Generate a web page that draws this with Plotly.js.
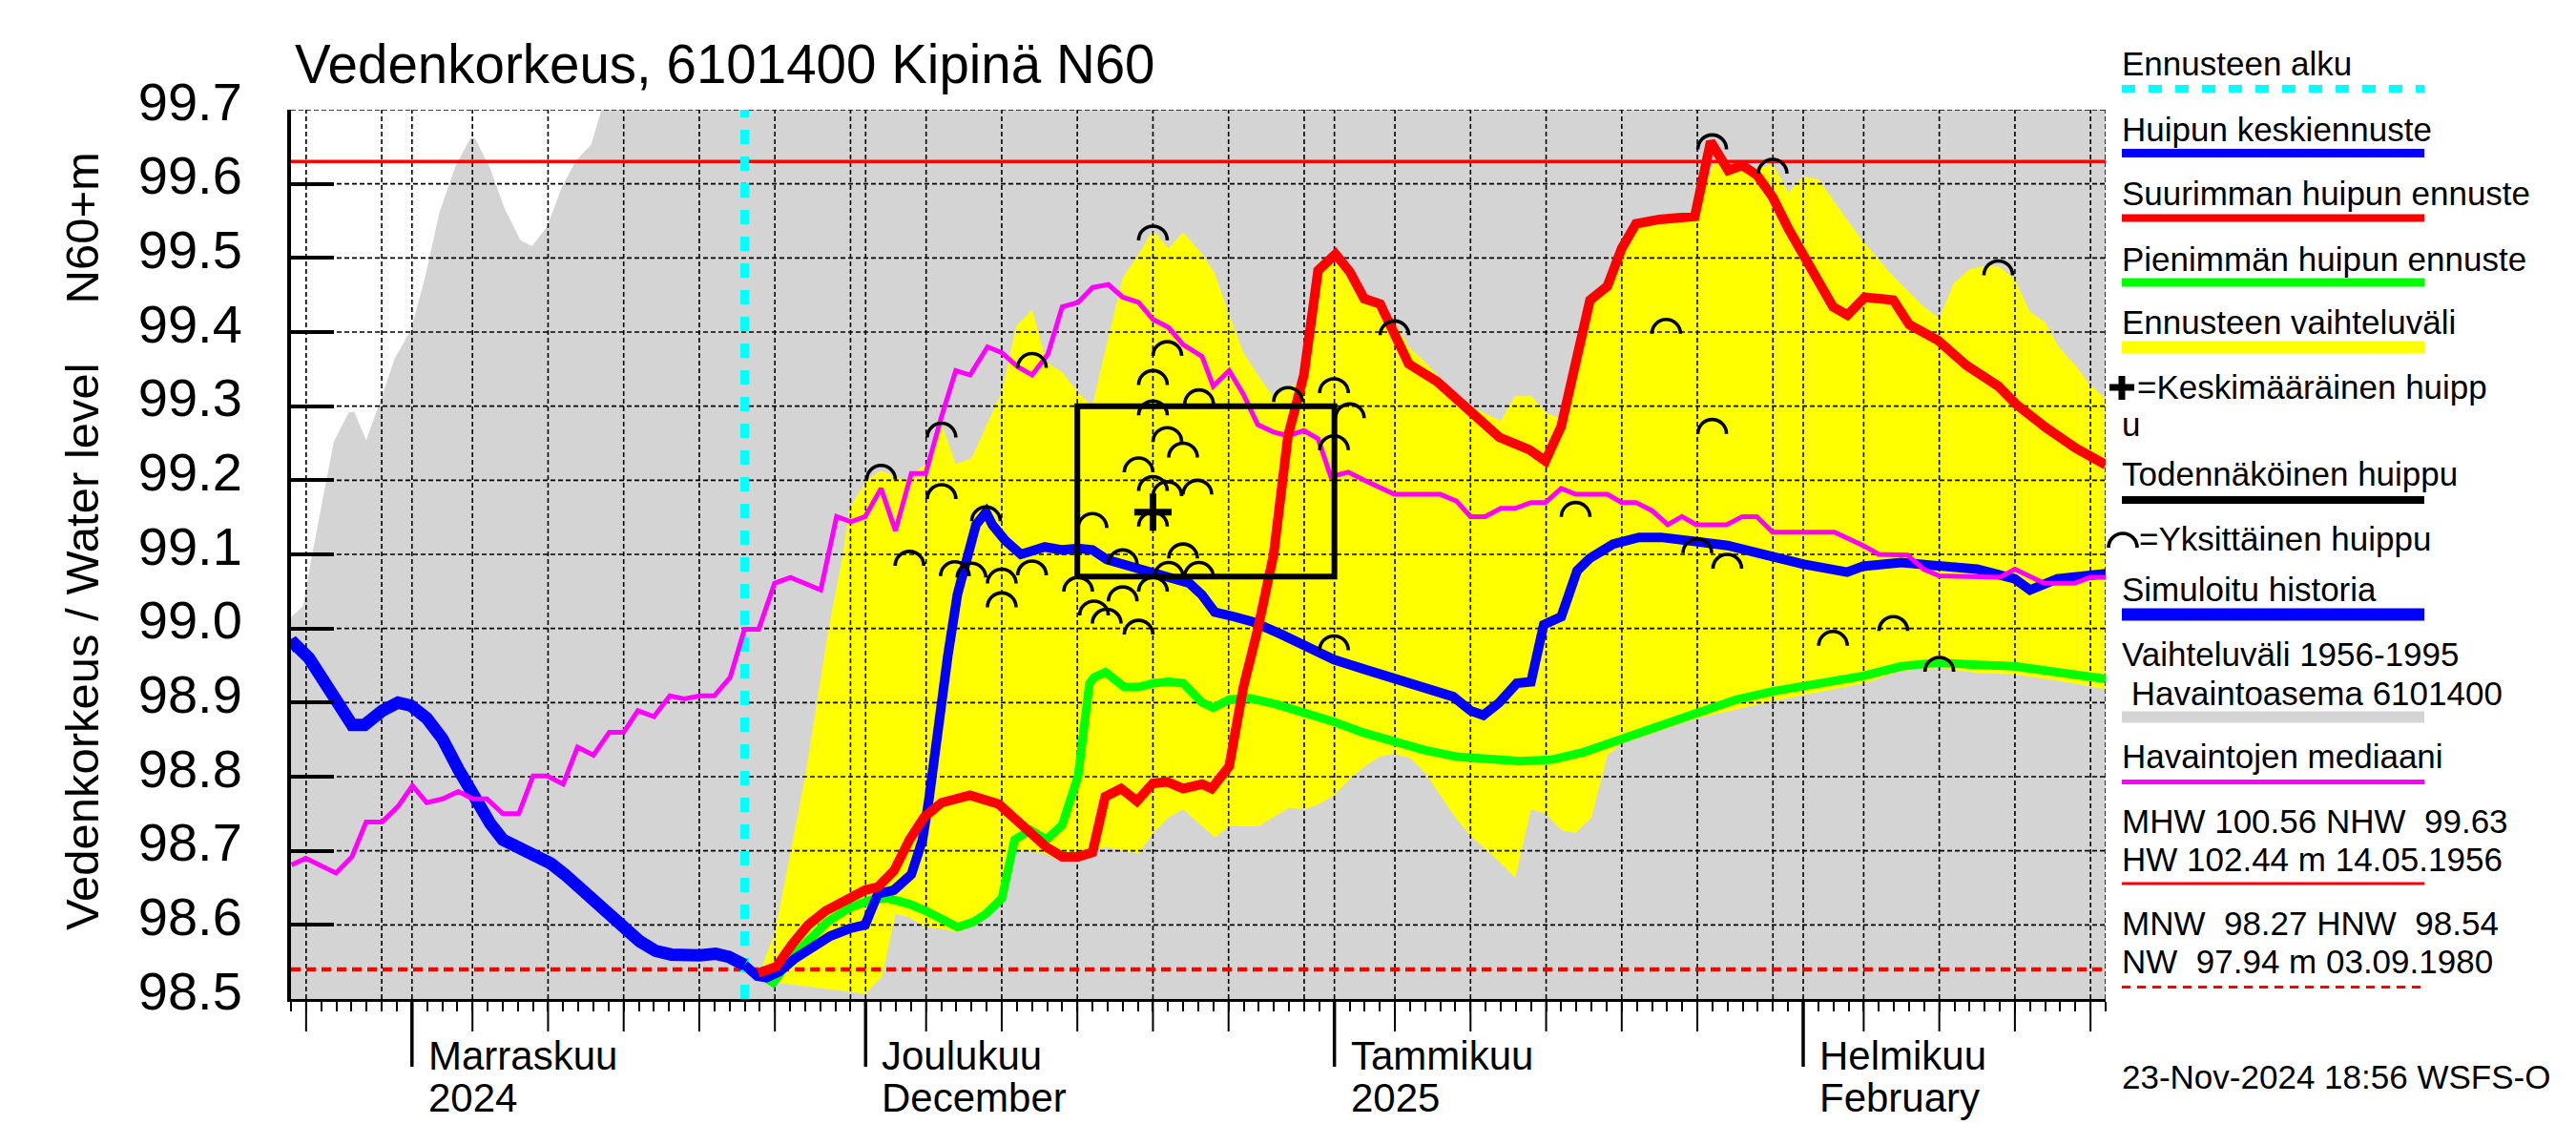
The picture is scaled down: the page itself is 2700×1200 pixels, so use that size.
<!DOCTYPE html>
<html><head><meta charset="utf-8">
<script src="https://cdn.plot.ly/plotly-3.0.1.min.js"></script>
<style>html,body{margin:0;padding:0;background:#fff}#chart{width:2700px;height:1200px}</style>
</head><body><div id="chart"></div>
<script>
// ===== DATA (x values are day offsets from 2024-11-01) =====
const histMaxDays  = [-8.0,-7.2,-6.6,-5.17,-4.18,-3.8,-3.03,-1.97,-1.13,-0.08,0.86,1.81,2.86,3.87,4.16,5.17,6.12,7.17,7.95,8.95,9.9,10.84,11.85,12.53,13.5,112];
const histMaxLevel = [99.015,99.03,99.10,99.252,99.292,99.292,99.254,99.314,99.365,99.402,99.473,99.561,99.623,99.662,99.662,99.621,99.567,99.524,99.516,99.543,99.595,99.631,99.653,99.70,99.85,99.85];
const histMinDays  = [-8.5,112];
const histMinLevel = [98.2,98.2];

const fcHighDays  = [23.0,24.0,26.0,27.55,28.5,28.92,30.08,31.02,32.5,33.97,35.02,35.96,37.01,37.96,39.01,39.96,41.01,41.95,43.0,44.05,45.0,45.95,47.0,48.05,48.99,50.04,50.99,52.25,53.09,54.04,54.98,55.93,56.98,57.93,58.6,58.98,59.92,61.07,62.02,62.97,64.02,64.97,65.91,66.96,67.8,70.0,72.0,72.95,74.0,74.95,75.8,76.4,76.95,77.9,79.05,80.0,80.94,82.5,84.83,86.2,87.04,87.98,88.93,89.98,91.03,91.97,93.03,93.97,95.96,97.96,99.96,101.0,101.96,103.0,104.16,105.0,106.0,106.96,108.0,108.9,110.0,110.95,112.0];
const fcHighLevel = [98.535,98.59,98.80,99.00,99.10,99.162,99.20,99.213,99.20,99.222,99.275,99.222,99.23,99.273,99.32,99.408,99.43,99.359,99.346,99.318,99.301,99.385,99.473,99.505,99.537,99.513,99.535,99.505,99.479,99.423,99.372,99.342,99.312,99.325,99.33,99.342,99.483,99.505,99.481,99.445,99.438,99.415,99.38,99.36,99.342,99.30,99.28,99.314,99.314,99.292,99.284,99.30,99.359,99.443,99.462,99.513,99.546,99.552,99.556,99.636,99.61,99.63,99.62,99.627,99.588,99.61,99.606,99.578,99.522,99.475,99.434,99.419,99.466,99.485,99.49,99.488,99.471,99.428,99.413,99.38,99.355,99.329,99.31];
const fcLowDays  = [23.0,29.97,31.1,31.97,32.9,33.97,35.0,36.07,37.12,37.96,39.01,39.6,40.06,41.0,41.95,43.0,44.05,45.1,45.84,48.05,49.1,50.04,51.0,52.25,53.1,54.05,56.0,58.0,59.0,60.0,60.97,61.9,63.0,64.0,64.96,66.0,66.96,68.0,69.07,70.0,70.96,72.0,72.96,74.0,74.95,76.0,76.95,78.0,79.05,80.0,82.5,85.0,90.0,96.0,98.5,101.0,103.5,105.9,108.7,112.0];
const fcLowLevel = [98.525,98.507,98.531,98.615,98.61,98.597,98.595,98.59,98.598,98.61,98.63,98.69,98.70,98.70,98.695,98.685,98.685,98.70,98.705,98.696,98.726,98.745,98.756,98.733,98.718,98.733,98.733,98.758,98.756,98.763,98.775,98.795,98.814,98.827,98.831,98.825,98.806,98.775,98.743,98.72,98.703,98.683,98.664,98.756,98.75,98.728,98.724,98.745,98.829,98.844,98.862,98.879,98.902,98.926,98.943,98.947,98.94,98.938,98.93,98.918];

const simHistDays  = [-8.07,-7.75,-6.81,-5.96,-5.02,-3.97,-3.13,-1.97,-0.92,-0.08,0.97,2.02,3.07,4.12,5.17,6.01,7.06,8.11,9.17,10.11,11.06,12.11,13.16,14.0,15.05,16.1,17.15,19.04,20.09,20.93,21.99];
const simHistLevel = [98.975,98.979,98.96,98.932,98.90,98.87,98.87,98.889,98.90,98.896,98.879,98.851,98.81,98.769,98.737,98.715,98.705,98.696,98.683,98.668,98.651,98.632,98.615,98.597,98.578,98.565,98.56,98.559,98.561,98.557,98.546];

const meanFcDays  = [21.99,22.83,23.46,24.3,25.35,26.4,27.66,28.92,29.97,30.81,31.87,33.02,33.76,34.17,34.8,35.44,36.07,36.7,37.3,37.96,38.38,39.22,40.27,41.85,43.0,44.05,45.0,45.95,48.47,50.15,51.41,52.25,53.09,54.35,55.61,57.5,59.19,60.97,62.97,64.97,66.96,68.85,70.01,70.85,71.9,73.06,74.0,74.84,76.0,77.05,77.9,79.44,81.14,82.6,85.0,87.0,89.98,91.97,94.9,95.96,98.49,101.0,103.5,105.99,107.0,108.8,112.0];
const meanFcLevel = [98.546,98.531,98.529,98.537,98.555,98.57,98.585,98.595,98.60,98.642,98.647,98.668,98.715,98.767,98.874,98.964,99.046,99.10,99.14,99.157,99.14,99.119,99.10,99.11,99.106,99.108,99.106,99.093,99.078,99.069,99.061,99.045,99.022,99.016,99.009,98.992,98.975,98.958,98.945,98.932,98.921,98.908,98.889,98.883,98.90,98.926,98.928,99.005,99.016,99.078,99.095,99.114,99.123,99.123,99.117,99.112,99.097,99.087,99.076,99.084,99.089,99.084,99.08,99.067,99.052,99.067,99.074];

const maxFcDays  = [22.9,24.1,25.14,26.19,27.35,28.92,29.97,30.8,31.87,32.9,33.86,35.02,36.9,38.8,39.85,40.9,41.95,43.0,44.05,45.0,45.84,46.89,47.94,48.99,49.94,50.99,52.25,52.88,54.04,54.98,55.93,56.98,57.93,58.98,59.92,61.07,62.02,62.97,64.02,64.86,65.91,67.8,69.7,71.9,73.9,74.95,76.0,76.95,77.9,79.05,80.0,80.94,82.5,84.83,85.88,87.04,87.98,88.93,89.98,91.03,91.97,93.03,93.97,94.92,96.07,97.96,99.01,100.9,102.8,104.9,106.05,108.05,110.05,112.0];
const maxFcLevel = [98.535,98.544,98.574,98.60,98.619,98.638,98.647,98.651,98.673,98.715,98.745,98.765,98.775,98.763,98.745,98.724,98.705,98.692,98.692,98.698,98.773,98.784,98.767,98.791,98.793,98.784,98.79,98.784,98.814,98.921,98.999,99.10,99.26,99.342,99.483,99.505,99.481,99.445,99.438,99.402,99.357,99.333,99.297,99.258,99.241,99.226,99.273,99.359,99.443,99.462,99.513,99.546,99.552,99.556,99.657,99.618,99.625,99.612,99.582,99.539,99.505,99.473,99.434,99.423,99.447,99.443,99.41,99.389,99.355,99.327,99.303,99.271,99.243,99.221];

const minFcDays  = [22.9,23.88,25.14,26.19,27.45,28.92,30.39,31.44,32.91,33.97,35.02,36.07,37.12,37.96,39.01,39.85,40.9,41.95,43.0,44.05,44.8,45.1,45.86,47.1,48.05,49.0,50.04,51.0,52.25,52.99,54.03,55.4,57.09,58.98,60.97,62.97,64.97,66.96,69.07,71.06,73.27,75.37,77.47,80.0,82.5,85.0,87.56,89.97,93.03,95.97,98.49,101.0,103.5,105.99,108.8,112.0];
const minFcLevel = [98.535,98.522,98.557,98.578,98.604,98.623,98.634,98.636,98.628,98.619,98.608,98.597,98.604,98.615,98.636,98.715,98.728,98.715,98.735,98.801,98.926,98.934,98.941,98.921,98.921,98.926,98.928,98.926,98.90,98.893,98.904,98.906,98.898,98.887,98.874,98.859,98.846,98.836,98.827,98.823,98.821,98.823,98.833,98.851,98.869,98.887,98.904,98.915,98.926,98.936,98.949,98.954,98.951,98.949,98.941,98.932];

const medianDays  = [-7.96,-7.02,-5.02,-3.97,-3.03,-1.97,-0.92,0.03,0.97,2.02,3.07,4.02,4.96,6.01,7.06,8.01,8.95,10.0,10.95,12.0,13.05,14.0,14.94,16.0,17.05,18.0,19.04,19.99,21.04,21.99,22.93,23.98,25.03,27.03,28.08,29.03,29.97,31.02,31.97,33.02,33.97,35.02,35.96,36.91,38.06,39.01,40.06,41.01,42.05,43.0,44.05,45.0,46.05,47.0,48.05,49.0,50.04,50.99,52.25,52.99,54.04,54.98,55.93,56.98,57.93,58.98,59.92,60.76,61.92,62.97,64.97,68.0,69.07,70.0,70.96,72.0,72.95,74.0,74.95,76.0,76.95,79.05,80.0,80.94,82.0,83.04,83.98,84.93,86.93,87.98,88.93,89.98,94.07,95.96,97.0,98.9,99.96,101.0,105.0,105.99,107.94,109.94,110.98,112.0];
const medianLevel = [98.681,98.69,98.670,98.692,98.739,98.739,98.76,98.788,98.765,98.77,98.78,98.77,98.77,98.75,98.75,98.801,98.801,98.79,98.84,98.829,98.86,98.86,98.889,98.881,98.909,98.905,98.909,98.909,98.934,98.999,98.999,99.061,99.069,99.052,99.151,99.144,99.151,99.189,99.132,99.209,99.209,99.286,99.348,99.342,99.38,99.372,99.353,99.342,99.37,99.434,99.44,99.46,99.464,99.447,99.44,99.417,99.406,99.383,99.367,99.327,99.348,99.316,99.275,99.265,99.26,99.267,99.256,99.205,99.211,99.20,99.181,99.181,99.172,99.151,99.151,99.162,99.162,99.17,99.17,99.189,99.181,99.181,99.17,99.17,99.159,99.14,99.151,99.14,99.14,99.151,99.151,99.13,99.13,99.112,99.10,99.099,99.08,99.071,99.069,99.08,99.061,99.061,99.069,99.069];

const peakDays  = [31.02,35.02,35.02,37.96,41.0,49.0,49.95,49.0,52.05,49.0,49.95,50.99,48.05,49.0,49.95,51.94,45.0,49.0,50.99,47.0,32.9,35.9,37.0,39.0,39.0,41.0,44.05,47.0,45.1,45.94,48.05,49.0,50.04,52.04,57.93,60.97,62.02,60.97,64.97,76.95,82.94,85.98,89.98,85.98,104.9,85.0,86.98,93.97,97.96,101.0,60.97];
const peakLevel = [99.22,99.277,99.194,99.164,99.371,99.543,99.387,99.348,99.322,99.307,99.271,99.25,99.23,99.205,99.198,99.20,99.155,99.157,99.114,99.106,99.104,99.09,99.088,99.08,99.048,99.091,99.069,99.056,99.037,99.026,99.011,99.069,99.089,99.089,99.325,99.337,99.303,99.26,99.415,99.17,99.417,99.666,99.633,99.282,99.496,99.121,99.10,98.996,99.016,98.961,98.99];

const meanPeakDay = [49.0];
const meanPeakLevel = [99.157];

const probBoxDays  = [44, 61];        // 2024-12-15 .. 2025-01-01
const probBoxLevel = [99.07, 99.30];

const forecastStartDay = 22;          // 2024-11-23
const NHW = 99.63, HNW = 98.54;

const yTickVals   = [98.5,98.6,98.7,98.8,98.9,99.0,99.1,99.2,99.3,99.4,99.5,99.6,99.7];
const yTickLabels = ['98.5','98.6','98.7','98.8','98.9','99.0','99.1','99.2','99.3','99.4','99.5','99.6','99.7'];
const monthTicks  = ['2024-11-01','2024-12-01','2025-01-01','2025-02-01'];
const monthLabel1 = ['Marraskuu','Joulukuu','Tammikuu','Helmikuu'];
const monthLabel2 = ['2024','December','2025','February'];
const midTicks = ['2024-10-25','2024-11-05','2024-11-10','2024-11-15','2024-11-20','2024-11-25','2024-12-05','2024-12-10','2024-12-15','2024-12-20','2024-12-25','2025-01-05','2025-01-10','2025-01-15','2025-01-20','2025-01-25','2025-02-05','2025-02-10','2025-02-15','2025-02-20'];
const gridDates = ['2024-10-25','2024-10-30','2024-11-01','2024-11-05','2024-11-10','2024-11-15','2024-11-20','2024-11-25','2024-11-30','2024-12-01','2024-12-05','2024-12-10','2024-12-15','2024-12-20','2024-12-25','2024-12-30','2025-01-01','2025-01-05','2025-01-10','2025-01-15','2025-01-20','2025-01-25','2025-01-30','2025-02-01','2025-02-05','2025-02-10','2025-02-15','2025-02-20','2025-02-21'];
const xRange = ['2024-10-24','2025-02-21'];

// ===== helpers =====
const BASE = Date.UTC(2024,10,1), DAY = 86400000;
const dt = d => new Date(BASE + Math.round(d*DAY)).toISOString().slice(0,19).replace('T',' ');
const FONT = 'Liberation Sans, Arial, Helvetica, sans-serif';
const L=305, R=2207, T=115, B=1047, W=R-L, H=B-T;
const px = x => (x-L)/W, py = y => (B-y)/H;

// ===== traces =====
const traces = [];
const noLine = {width:0, color:'rgba(0,0,0,0)'};
traces.push({x:histMinDays.map(dt), y:histMinLevel, mode:'lines', line:noLine, hoverinfo:'skip'});
traces.push({x:histMaxDays.map(dt), y:histMaxLevel, mode:'lines', line:noLine, fill:'tonexty', fillcolor:'#d4d4d4', hoverinfo:'skip'});
traces.push({x:fcLowDays.map(dt), y:fcLowLevel, mode:'lines', line:noLine, hoverinfo:'skip'});
traces.push({x:fcHighDays.map(dt), y:fcHighLevel, mode:'lines', line:noLine, fill:'tonexty', fillcolor:'#ffff00', hoverinfo:'skip'});

// grid (dashed) drawn above fills, below lines
const gx=[], gy=[];
gridDates.forEach(d=>{gx.push(d,d,null); gy.push(yTickVals[0], yTickVals[yTickVals.length-1], null);});
yTickVals.slice(1).forEach(v=>{gx.push(xRange[0],xRange[1],null); gy.push(v,v,null);});
traces.push({x:gx, y:gy, mode:'lines', line:{color:'#000', width:1.6, dash:'5px,3px'}, hoverinfo:'skip'});

traces.push({x:xRange, y:[NHW,NHW], mode:'lines', line:{color:'#ff0000', width:3.5}, hoverinfo:'skip'});
traces.push({x:xRange, y:[HNW,HNW], mode:'lines', line:{color:'#ff0000', width:4.5, dash:'10px,6px'}, hoverinfo:'skip'});
traces.push({x:[dt(forecastStartDay),dt(forecastStartDay)], y:[yTickVals[0], yTickVals[yTickVals.length-1]], mode:'lines', line:{color:'#00ffff', width:9, dash:'15px,13px'}, hoverinfo:'skip'});

traces.push({x:minFcDays.map(dt), y:minFcLevel, mode:'lines', line:{color:'#00ff00', width:9}});
traces.push({x:simHistDays.map(dt), y:simHistLevel, mode:'lines', line:{color:'#0000ff', width:13}});
traces.push({x:meanFcDays.map(dt), y:meanFcLevel, mode:'lines', line:{color:'#0000ff', width:10}});
traces.push({x:medianDays.map(dt), y:medianLevel, mode:'lines', line:{color:'#ff00ff', width:5}});
traces.push({x:maxFcDays.map(dt), y:maxFcLevel, mode:'lines', line:{color:'#ff0000', width:10}});

const b0=dt(probBoxDays[0]), b1=dt(probBoxDays[1]);
traces.push({x:[b0,b1,b1,b0,b0], y:[probBoxLevel[0],probBoxLevel[0],probBoxLevel[1],probBoxLevel[1],probBoxLevel[0]], mode:'lines', line:{color:'#000', width:6}});
traces.push({x:meanPeakDay.map(dt), y:meanPeakLevel, mode:'markers', marker:{symbol:'cross-thin-open', size:28, color:'#000', line:{width:7, color:'#000'}}});

// ===== shapes =====
const ARC = 'M -15,-15 C -15,-6.7 -8.3,0 0,0 C 8.3,0 15,-6.7 15,-15';
const shapes = [];
peakDays.forEach((d,i)=>{
  shapes.push({type:'path', xref:'x', yref:'y', xsizemode:'pixel', ysizemode:'pixel', xanchor:dt(d), yanchor:peakLevel[i], path:ARC, line:{color:'#000', width:3.6}, layer:'above'});
});
midTicks.forEach(d=>shapes.push({type:'line', xref:'x', yref:'paper', x0:d, x1:d, y0:0, y1:py(1081), line:{color:'#000', width:2}}));
monthTicks.forEach(d=>shapes.push({type:'line', xref:'x', yref:'paper', x0:d, x1:d, y0:0, y1:py(1118), line:{color:'#000', width:3.5}}));

// legend shapes
const legLine = (y, color, width, dash) => ({type:'line', xref:'paper', yref:'paper', x0:px(2224), x1:px(2541), y0:py(y), y1:py(y), line:{color, width, dash:dash||'solid'}});
shapes.push(legLine(93,'#00ffff',8,'14px,14px'));
shapes.push(legLine(160.5,'#0000ff',9));
shapes.push(legLine(228.5,'#ff0000',8));
shapes.push(legLine(296,'#00ff00',9));
shapes.push(legLine(364,'#ffff00',13));
shapes.push(legLine(524,'#000000',8));
shapes.push(legLine(644,'#0000ff',13));
shapes.push(legLine(751.5,'#d4d4d4',12));
shapes.push(legLine(819.5,'#ff00ff',5));
shapes.push(legLine(926,'#ff0000',3));
shapes.push(legLine(1034.5,'#ff0000',3,'9px,7px'));
shapes.push({type:'line', xref:'paper', yref:'paper', x0:px(2211), x1:px(2237), y0:py(406), y1:py(406), line:{color:'#000', width:7}});
shapes.push({type:'line', xref:'paper', yref:'paper', x0:px(2224), x1:px(2224), y0:py(394), y1:py(419), line:{color:'#000', width:7}});
shapes.push({type:'path', xref:'paper', yref:'paper', xsizemode:'pixel', ysizemode:'pixel', xanchor:px(2225), yanchor:py(559), path:ARC, line:{color:'#000', width:3.6}});

// ===== annotations =====
const ann = [];
const txt = (text, x, yc, size, extra) => Object.assign({xref:'paper', yref:'paper', x:px(x), y:py(yc), xanchor:'left', yanchor:'middle', text, showarrow:false, font:{family:FONT, size, color:'#000'}}, extra||{});
ann.push(txt('Vedenkorkeus, 6101400 Kipinä N60', 307, 67, 56.5));
ann.push(txt('Vedenkorkeus / Water level', 86, 678, 49, {xanchor:'center', textangle:-90}));
ann.push(txt('N60+m', 86, 239.5, 49, {xanchor:'center', textangle:-90}));
monthTicks.forEach((d,i)=>{
  ann.push({xref:'x', yref:'paper', x:d, y:py(1106), xanchor:'left', yanchor:'middle', xshift:15, text:monthLabel1[i], showarrow:false, font:{family:FONT, size:42, color:'#000'}});
  ann.push({xref:'x', yref:'paper', x:d, y:py(1150), xanchor:'left', yanchor:'middle', xshift:15, text:monthLabel2[i], showarrow:false, font:{family:FONT, size:42, color:'#000'}});
});
const NB='\u00a0';
[
 ['Ennusteen alku',2222,66],
 ['Huipun keskiennuste',2222,135],
 ['Suurimman huipun ennuste',2222,202],
 ['Pienimmän huipun ennuste',2222,271],
 ['Ennusteen vaihteluväli',2222,337.5],
 ['=Keskimääräinen huipp',2238,405.5],
 ['u',2222,444],
 ['Todennäköinen huippu',2222,496],
 ['=Yksittäinen huippu',2240,564],
 ['Simuloitu historia',2222,617],
 ['Vaihteluväli 1956-1995',2222,685],
 [NB+'Havaintoasema 6101400',2222,726],
 ['Havaintojen mediaani',2222,792],
 ['MHW 100.56 NHW'+NB+NB+'99.63',2222,860],
 ['HW 102.44 m 14.05.1956',2222,900],
 ['MNW'+NB+NB+'98.27 HNW'+NB+NB+'98.54',2222,967],
 ['NW'+NB+NB+'97.94 m 03.09.1980',2222,1007.5],
 ['23-Nov-2024 18:56 WSFS-O',2222,1128]
].forEach(a=>ann.push(txt(a[0],a[1],a[2],35)));

const layout = {
  width:2700, height:1200, showlegend:false,
  paper_bgcolor:'#fff', plot_bgcolor:'#fff',
  margin:{l:L, r:2700-R, t:T, b:1200-B, pad:0},
  xaxis:{type:'date', range:xRange, showgrid:false, zeroline:false, showline:true, linecolor:'#000', linewidth:3,
         ticks:'outside', tickmode:'linear', tick0:xRange[0], dtick:DAY, ticklen:10, tickwidth:2, tickcolor:'#000',
         showticklabels:false, automargin:false, fixedrange:true},
  yaxis:{range:[yTickVals[0], yTickVals[yTickVals.length-1]], tickmode:'array', tickvals:yTickVals, ticktext:yTickLabels,
         ticks:'inside', ticklen:45, tickwidth:4, tickcolor:'#000', showline:true, linewidth:4, linecolor:'#000',
         showgrid:false, zeroline:false, automargin:false, fixedrange:true, ticklabelstandoff:36, ticklabelshift:-9,
         tickfont:{family:FONT, size:56, color:'#000'}},
  shapes, annotations:ann
};
Plotly.newPlot('chart', traces, layout, {displayModeBar:false, staticPlot:true});
</script></body></html>
